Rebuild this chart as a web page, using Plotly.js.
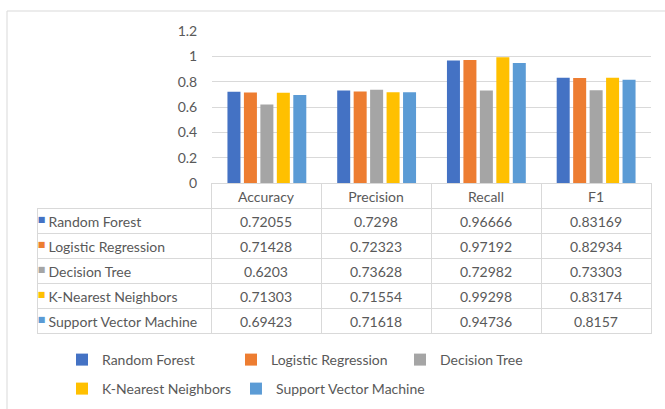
<!DOCTYPE html>
<html><head><meta charset="utf-8">
<script src="https://cdn.plot.ly/plotly-3.0.1.min.js"></script>
<style>html,body{margin:0;padding:0;background:#fff;}</style>
</head><body>
<div id="chart" style="width:665px;height:409px;"></div>
<script>
const categories = ['Accuracy', 'Precision', 'Recall', 'F1'];
const models = ['Random Forest', 'Logistic Regression', 'Decision Tree', 'K-Nearest Neighbors', 'Support Vector Machine'];
const randomForest = [0.72055, 0.7298, 0.96666, 0.83169];
const logisticRegression = [0.71428, 0.72323, 0.97192, 0.82934];
const decisionTree = [0.6203, 0.73628, 0.72982, 0.73303];
const kNearestNeighbors = [0.71303, 0.71554, 0.99298, 0.83174];
const supportVectorMachine = [0.69423, 0.71618, 0.94736, 0.8157];
const yTickVals = [0, 0.2, 0.4, 0.6, 0.8, 1, 1.2];
const yTickText = ['0', '0.2', '0.4', '0.6', '0.8', '1', '1.2'];
const colors = ['#4472C4', '#ED7D31', '#A5A5A5', '#FFC000', '#5B9BD5'];

const series = [randomForest, logisticRegression, decisionTree, kNearestNeighbors, supportVectorMachine];
const FONT = 'Lato, "Liberation Sans", Arial, sans-serif';
const TXT = '#595959';
const GRID = '#d9d9d9';
const W = 665, H = 409;
const tableY = [1 - 336 / H, 1 - 183 / H];

const traces = series.map((vals, i) => ({
  type: 'bar',
  name: models[i],
  x: categories,
  y: vals,
  marker: {color: colors[i]},
  legend: i < 3 ? 'legend' : 'legend2',
  hoverinfo: 'skip'
}));

// data table (no markup, so rows keep their 25px height)
const rowHeaders = models.map(m => '\u2005' + m.replace(/ /g, '\u00A0'));
const tableCols = [rowHeaders].concat(categories.map((c, j) => series.map(s => String(s[j]))));

traces.push({
  type: 'table',
  domain: {x: [37 / W, 651 / W], y: tableY},
  columnwidth: [174, 110, 110, 110, 110],
  header: {
    values: [''].concat(categories),
    align: 'center',
    height: 25,
    fill: {color: ['rgba(0,0,0,0)', 'white', 'white', 'white', 'white']},
    line: {color: GRID, width: [0, 1, 1, 1, 1]},
    font: {family: FONT, size: 14, color: TXT}
  },
  cells: {
    values: tableCols,
    align: ['left', 'center', 'center', 'center', 'center'],
    height: 25,
    fill: {color: 'white'},
    line: {color: GRID, width: 1},
    font: {family: FONT, size: 14, color: TXT}
  }
});

// colour keys of the table rows, laid over the row-header column
traces.push({
  type: 'table',
  domain: {x: [35 / W, 49 / W], y: tableY},
  header: {
    values: [''],
    height: 25,
    fill: {color: 'rgba(0,0,0,0)'},
    line: {width: 0},
    font: {size: 8}
  },
  cells: {
    values: [models.map(() => '\u25A0')],
    align: 'center',
    height: 25,
    fill: {color: 'rgba(0,0,0,0)'},
    line: {width: 0},
    font: {family: '"DejaVu Sans", sans-serif', size: 8, color: [colors]}
  }
});

const legendBase = {
  orientation: 'h',
  xanchor: 'left',
  yanchor: 'middle',
  x: 62 / W,
  bgcolor: 'rgba(0,0,0,0)',
  borderwidth: 0,
  font: {family: FONT, size: 14, color: TXT}
};

const layout = {
  width: W, height: H,
  margin: {l: 0, r: 0, t: 0, b: 0},
  paper_bgcolor: 'white',
  plot_bgcolor: 'white',
  font: {family: FONT, size: 14, color: TXT},
  barmode: 'group',
  bargap: 0.25,
  bargroupgap: 0.21,
  xaxis: {
    domain: [212 / W, 651 / W],
    showticklabels: false,
    showgrid: false,
    zeroline: false,
    showline: false,
    ticks: ''
  },
  yaxis: {
    domain: [1 - 183 / H, 1 - 31 / H],
    range: [0, 1.2],
    tickvals: yTickVals,
    ticktext: yTickText,
    showgrid: true,
    gridcolor: GRID,
    gridwidth: 1,
    zeroline: false,
    showline: false,
    ticks: 'outside',
    ticklen: 11,
    tickcolor: 'rgba(0,0,0,0)',
    tickfont: {family: FONT, size: 14, color: TXT}
  },
  legend: Object.assign({}, legendBase, {y: 1 - 360 / H, entrywidth: 124, entrywidthmode: 'pixels'}),
  legend2: Object.assign({}, legendBase, {y: 1 - 389 / H}),
  shapes: [{
    type: 'rect', xref: 'paper', yref: 'paper',
    x0: 7 / W, x1: 1.02, y0: -0.02, y1: 1 - 11 / H,
    line: {color: GRID, width: 1}, fillcolor: 'rgba(0,0,0,0)', layer: 'below'
  }]
};

Plotly.newPlot('chart', traces, layout, {displayModeBar: false, staticPlot: true});
</script>
</body></html>
